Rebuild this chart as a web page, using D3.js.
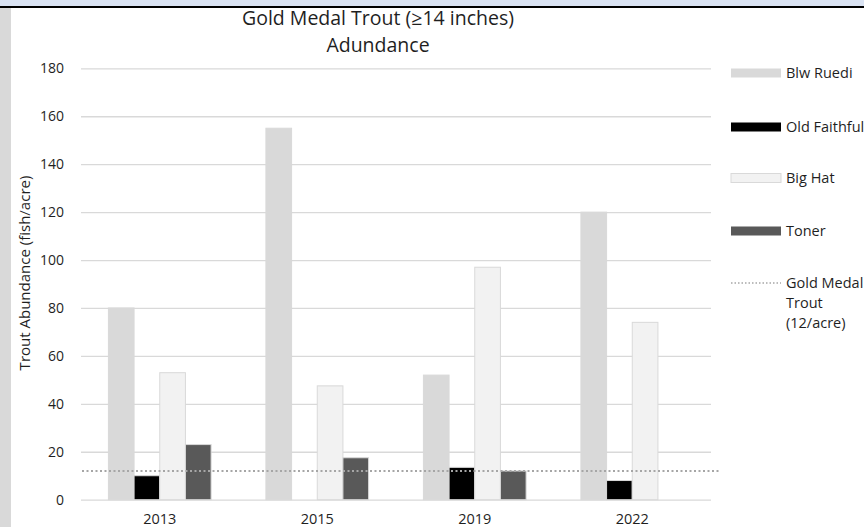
<!DOCTYPE html>
<html>
<head>
<meta charset="utf-8">
<script src="https://cdn.jsdelivr.net/npm/d3@7"></script>
<style>
  body { margin: 0; background: #fff; }
  text { font-family: "Open Sans", "DejaVu Sans", sans-serif; fill: #1f1f1f; }
</style>
</head>
<body>
<div id="vis"></div>
<script>
// chart data
let years = ["2013", "2015", "2019", "2022"];
let series = ["Blw Ruedi", "Old Faithful", "Big Hat", "Toner"];
let blwRuedi = [80, 155, 52, 120];
let oldFaithful = [10, 0, 13.5, 8];
let bigHat = [53, 47.5, 97, 74];
let toner = [23, 17.5, 12, 0];
let goldMedal = 12;
let yTicks = [0, 20, 40, 60, 80, 100, 120, 140, 160, 180];

let seriesValues = [blwRuedi, oldFaithful, bigHat, toner];
let colors = ['#d9d9d9', '#000000', '#f2f2f2', '#595959'];

let width = 864, height = 527;

let svg = d3.select('#vis')
  .append('svg')
  .attr('width', width)
  .attr('height', height);

// window chrome: blue strip on top, grey strip on the left
svg.append('rect').attr('x', 0).attr('y', 0).attr('width', width).attr('height', 6).style('fill', '#dae3f3');
svg.append('rect').attr('x', 0).attr('y', 6).attr('width', width).attr('height', 2).style('fill', '#000');
svg.append('rect').attr('x', 0).attr('y', 8).attr('width', 11).attr('height', height - 8).style('fill', '#d9d9d9');

// scales
const x0 = d3.scaleBand()
  .domain(years)
  .range([81, 711])
  .paddingInner(0.348)
  .paddingOuter(0.174);

const x1 = d3.scaleBand()
  .domain(series)
  .range([0, x0.bandwidth()]);

const y = d3.scaleLinear()
  .domain([0, 180])
  .range([499.7, 68.3]);

// gridlines + y labels
svg.append('g')
  .attr('transform', 'translate(81,0)')
  .call(d3.axisLeft(y).tickValues(yTicks).tickSize(-630).tickPadding(17))
  .call(g => g.select('.domain').remove())
  .call(g => g.selectAll('line').attr('stroke', '#d9d9d9').attr('stroke-width', 1.3))
  .call(g => g.selectAll('text').style('font-size', '14px').style('fill', '#1f1f1f')
    .style('font-family', '"Open Sans", sans-serif'));

// bars
let rows = years.map((yr, i) => ({ year: yr, vals: series.map((s, j) => ({ key: s, value: seriesValues[j][i], color: colors[j] })) }));

svg.append('g')
  .selectAll('g')
  .data(rows)
  .join('g')
    .attr('transform', d => `translate(${x0(d.year)},0)`)
  .selectAll('rect')
  .data(d => d.vals.filter(v => v.value > 0))
  .join('rect')
    .attr('x', d => x1(d.key))
    .attr('y', d => y(d.value))
    .attr('width', x1.bandwidth())
    .attr('height', d => y(0) - y(d.value))
    .style('fill', d => d.color)
    .style('stroke', '#d9d9d9')
    .style('stroke-width', 1);

// gold medal threshold line
svg.append('line')
  .attr('x1', 82)
  .attr('x2', 721)
  .attr('y1', y(goldMedal))
  .attr('y2', y(goldMedal))
  .style('stroke', '#a6a6a6')
  .style('stroke-width', 2)
  .style('stroke-dasharray', '2,2.5');

// x axis labels
svg.append('g')
  .attr('transform', 'translate(0,499.7)')
  .call(d3.axisBottom(x0).tickSize(0).tickPadding(14))
  .call(g => g.select('.domain').remove())
  .call(g => g.selectAll('text').style('font-size', '14.5px').style('fill', '#1f1f1f')
    .style('font-family', '"Open Sans", sans-serif'));

// title
svg.append('text')
  .attr('x', 378)
  .attr('y', 25)
  .attr('text-anchor', 'middle')
  .style('font-size', '19.5px')
  .text('Gold Medal Trout (\u226514 inches)');

svg.append('text')
  .attr('x', 378)
  .attr('y', 52)
  .attr('text-anchor', 'middle')
  .style('font-size', '19.5px')
  .text('Adundance');

// y axis label rotated
svg.append('text')
  .attr('transform', 'translate(30,273) rotate(-90)')
  .attr('text-anchor', 'middle')
  .style('font-size', '15px')
  .text('Trout Abundance (fish/acre)');

// legend
let legendY = [73, 127, 178, 231];
series.forEach((s, i) => {
  svg.append('rect')
    .attr('x', 731)
    .attr('y', legendY[i] - 4.5)
    .attr('width', 50)
    .attr('height', 9)
    .style('fill', colors[i])
    .style('stroke', i == 2 ? '#d9d9d9' : 'none');
  svg.append('text')
    .attr('x', 786)
    .attr('y', legendY[i] + 5)
    .style('font-size', '14.5px')
    .text(s);
});

svg.append('line')
  .attr('x1', 731).attr('x2', 781)
  .attr('y1', 283).attr('y2', 283)
  .style('stroke', '#a6a6a6')
  .style('stroke-width', 1.5)
  .style('stroke-dasharray', '1.5,2');

['Gold Medal', 'Trout', '(12/acre)'].forEach((t, i) => {
  svg.append('text')
    .attr('x', 786)
    .attr('y', 288 + i * 20)
    .style('font-size', '14.5px')
    .text(t);
});
</script>
</body>
</html>
